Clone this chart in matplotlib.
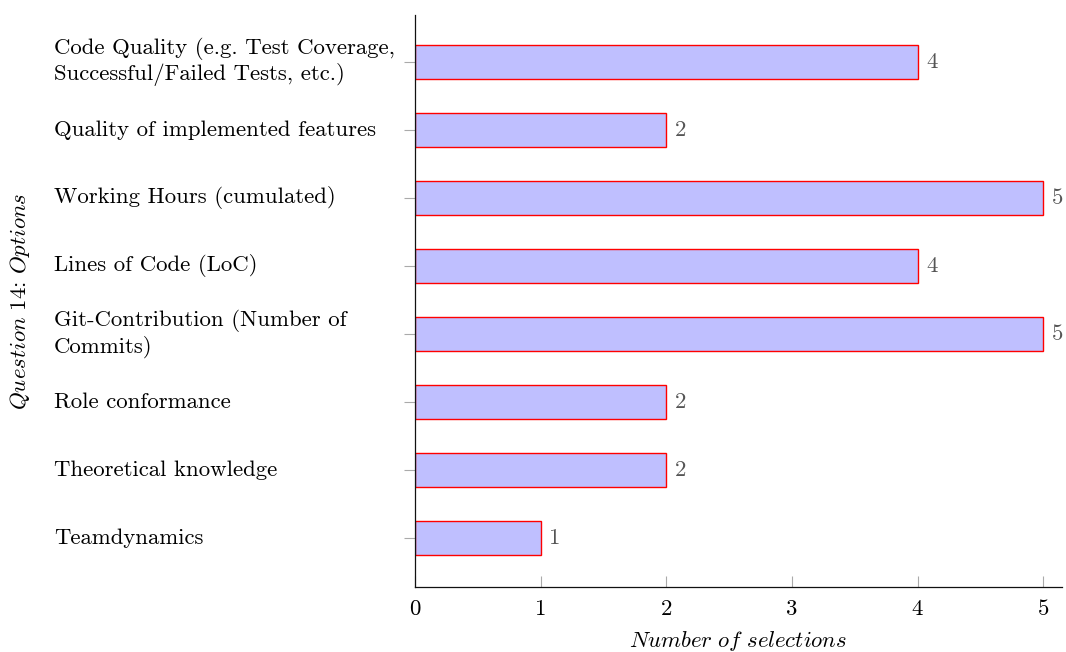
import matplotlib
matplotlib.use("Agg")
import matplotlib.pyplot as plt
from matplotlib.transforms import blended_transform_factory

# Survey answers, listed top to bottom
options = [
    "Code Quality (e.g. Test Coverage,\nSuccessful/Failed Tests, etc.)",
    "Quality of implemented features",
    "Working Hours (cumulated)",
    "Lines of Code (LoC)",
    "Git-Contribution (Number of\nCommits)",
    "Role conformance",
    "Theoretical knowledge",
    "Teamdynamics",
]
selections = [4, 2, 5, 4, 5, 2, 2, 1]
x_ticks = [0, 1, 2, 3, 4, 5]

plt.rcParams["font.family"] = "cmr10"
plt.rcParams["mathtext.fontset"] = "cm"
plt.rcParams["axes.unicode_minus"] = False
plt.rcParams["axes.formatter.use_mathtext"] = True

FS = 16.4

fig = plt.figure(figsize=(10.66, 6.52), dpi=100)
ax = fig.add_axes([415 / 1066, 1 - 587 / 652, (1062 - 415) / 1066, (587 - 15) / 652])

n = len(options)
ypos = [n - 1 - i for i in range(n)]

ax.barh(ypos, selections, height=0.5, color="#bfbfff", edgecolor="#ff0000",
        linewidth=1.0, zorder=2)

for y, v in zip(ypos, selections):
    ax.text(v + 0.07, y, str(v), ha="left", va="center", fontsize=FS,
            color="#555555")

ax.set_xlim(0, 5.15)
ax.set_ylim(-0.72, n - 1 + 0.69)

for s in ("top", "right"):
    ax.spines[s].set_visible(False)
for s in ("left", "bottom"):
    ax.spines[s].set_color("#111111")
    ax.spines[s].set_linewidth(0.9)

ax.set_xticks(x_ticks)
ax.set_xticklabels([str(t) for t in x_ticks], fontsize=FS)
ax.tick_params(axis="x", direction="in", length=8, color="#aaaaaa", width=0.8,
               pad=9)

ax.set_yticks(ypos)
ax.set_yticklabels([""] * n)
ax.tick_params(axis="y", direction="out", length=8, color="#aaaaaa", width=0.8)

trans = blended_transform_factory(fig.transFigure, ax.transData)
for y, lab in zip(ypos, options):
    ax.text(54 / 1066, y, lab, transform=trans, ha="left", va="center",
            fontsize=FS, linespacing=1.2)

ax.set_xlabel(r"$\mathit{Number\ of\ selections}$", fontsize=FS, labelpad=7)
fig.text(20 / 1066, 0.5 * ((1 - 587 / 652) + (1 - 15 / 652)),
         r"$\mathit{Question\ 14}$: $\mathit{Options}$", rotation=90,
         ha="center", va="center", fontsize=FS)

fig.savefig("out.png", dpi=100)
